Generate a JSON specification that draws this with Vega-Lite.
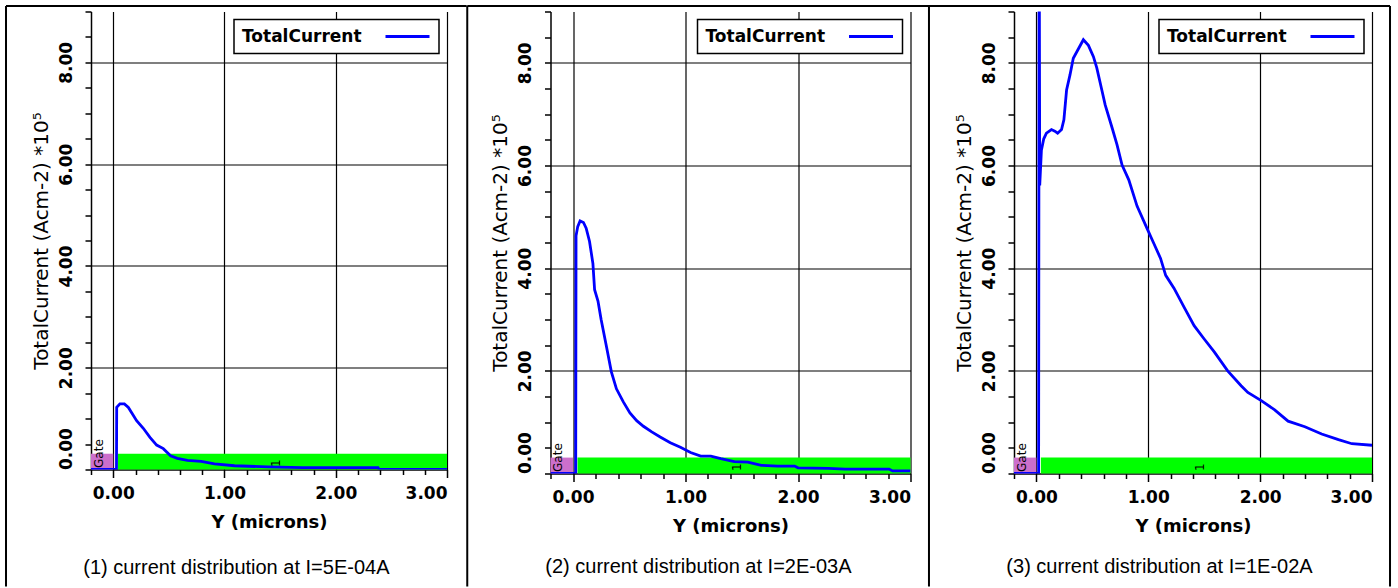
{
  "$schema": "https://vega.github.io/schema/vega-lite/v6.json",
  "background": "white",
  "padding": {"left": 5, "top": 4.5, "right": 7, "bottom": 0},
  "datasets": {
    "regions": [
      {"region": "Gate", "x0": -0.2, "x1": 0.0, "y0": 0, "y1": 0.31},
      {"region": "1", "x0": 0.04, "x1": 3.0, "y0": 0, "y1": 0.31}
    ],
    "tags": [
      {"label": "Gate", "x": -0.13, "y": 0.03},
      {"label": "1", "x": 1.46, "y": 0.05}
    ],
    "p1": [
      {"pos": -0.2, "j": 0}, {"pos": 0.029, "j": 0}, {"pos": 0.031, "j": 1.22}, {"pos": 0.06, "j": 1.29},
      {"pos": 0.10, "j": 1.29}, {"pos": 0.136, "j": 1.22}, {"pos": 0.167, "j": 1.11}, {"pos": 0.21, "j": 0.96},
      {"pos": 0.27, "j": 0.81}, {"pos": 0.33, "j": 0.63}, {"pos": 0.39, "j": 0.48}, {"pos": 0.45, "j": 0.41},
      {"pos": 0.515, "j": 0.27}, {"pos": 0.576, "j": 0.22}, {"pos": 0.667, "j": 0.18}, {"pos": 0.79, "j": 0.16},
      {"pos": 0.91, "j": 0.11}, {"pos": 1.09, "j": 0.074}, {"pos": 1.39, "j": 0.05}, {"pos": 1.70, "j": 0.037},
      {"pos": 2.0, "j": 0.037}, {"pos": 2.38, "j": 0.037}, {"pos": 2.39, "j": 0.0}, {"pos": 3.0, "j": 0.0}
    ],
    "p2": [
      {"pos": -0.2, "j": 0}, {"pos": 0.024, "j": 0}, {"pos": 0.027, "j": 4.63}, {"pos": 0.042, "j": 4.81},
      {"pos": 0.063, "j": 4.92}, {"pos": 0.093, "j": 4.89}, {"pos": 0.117, "j": 4.78}, {"pos": 0.147, "j": 4.52},
      {"pos": 0.177, "j": 4.09}, {"pos": 0.192, "j": 3.58}, {"pos": 0.222, "j": 3.36}, {"pos": 0.25, "j": 3.0},
      {"pos": 0.296, "j": 2.49}, {"pos": 0.341, "j": 1.98}, {"pos": 0.386, "j": 1.65}, {"pos": 0.446, "j": 1.40},
      {"pos": 0.506, "j": 1.18}, {"pos": 0.566, "j": 1.03}, {"pos": 0.626, "j": 0.92}, {"pos": 0.70, "j": 0.81},
      {"pos": 0.775, "j": 0.71}, {"pos": 0.865, "j": 0.60}, {"pos": 0.955, "j": 0.51}, {"pos": 1.045, "j": 0.41},
      {"pos": 1.135, "j": 0.34}, {"pos": 1.225, "j": 0.34}, {"pos": 1.314, "j": 0.29}, {"pos": 1.434, "j": 0.23},
      {"pos": 1.554, "j": 0.22}, {"pos": 1.674, "j": 0.16}, {"pos": 1.82, "j": 0.145}, {"pos": 1.97, "j": 0.145},
      {"pos": 2.0, "j": 0.11}, {"pos": 2.27, "j": 0.10}, {"pos": 2.42, "j": 0.087}, {"pos": 2.81, "j": 0.087},
      {"pos": 2.84, "j": 0.05}, {"pos": 3.0, "j": 0.05}
    ],
    "p3": [
      {"pos": -0.2, "j": 0}, {"pos": 0.02, "j": 0}, {"pos": 0.025, "j": 11}, {"pos": 0.03, "j": 5.61},
      {"pos": 0.045, "j": 6.3}, {"pos": 0.066, "j": 6.52}, {"pos": 0.09, "j": 6.63}, {"pos": 0.135, "j": 6.70},
      {"pos": 0.165, "j": 6.67}, {"pos": 0.19, "j": 6.63}, {"pos": 0.225, "j": 6.70}, {"pos": 0.246, "j": 6.89},
      {"pos": 0.27, "j": 7.47}, {"pos": 0.30, "j": 7.76}, {"pos": 0.33, "j": 8.09}, {"pos": 0.375, "j": 8.27},
      {"pos": 0.42, "j": 8.45}, {"pos": 0.465, "j": 8.34}, {"pos": 0.51, "j": 8.12}, {"pos": 0.54, "j": 7.9},
      {"pos": 0.585, "j": 7.47}, {"pos": 0.615, "j": 7.18}, {"pos": 0.676, "j": 6.74}, {"pos": 0.72, "j": 6.41},
      {"pos": 0.766, "j": 6.01}, {"pos": 0.826, "j": 5.72}, {"pos": 0.90, "j": 5.21}, {"pos": 0.99, "j": 4.77},
      {"pos": 1.05, "j": 4.48}, {"pos": 1.11, "j": 4.19}, {"pos": 1.156, "j": 3.86}, {"pos": 1.23, "j": 3.61},
      {"pos": 1.32, "j": 3.24}, {"pos": 1.41, "j": 2.88}, {"pos": 1.50, "j": 2.62}, {"pos": 1.59, "j": 2.37},
      {"pos": 1.71, "j": 2.0}, {"pos": 1.83, "j": 1.71}, {"pos": 1.89, "j": 1.58}, {"pos": 2.01, "j": 1.42},
      {"pos": 2.13, "j": 1.24}, {"pos": 2.25, "j": 1.02}, {"pos": 2.40, "j": 0.91}, {"pos": 2.55, "j": 0.77},
      {"pos": 2.70, "j": 0.66}, {"pos": 2.82, "j": 0.58}, {"pos": 3.0, "j": 0.55}
    ]
  },
  "hconcat": [
    {
      "width": 356,
      "height": 458,
      "title": {"text": "(1) current distribution at I=5E-04A", "orient": "bottom", "anchor": "middle", "frame": "bounds", "offset": -30, "baseline": "top", "font": "Liberation Sans", "fontSize": 20, "fontWeight": "normal", "color": "black"},
      "layer": [
        {
          "data": {"name": "regions"},
          "mark": {"type": "rect"},
          "encoding": {
            "x": {"field": "x0", "type": "quantitative", "scale": {"domain": [-0.2, 3.0], "nice": false, "zero": false},
              "axis": {"values": [-0.2, 0, 0.2, 0.4, 0.6, 0.8, 1, 1.2, 1.4, 1.6, 1.8, 2, 2.2, 2.4, 2.6, 2.8, 3], "tickCount": 100,
                "labelExpr": "datum.value % 1 === 0 ? format(datum.value, '.2f') : ''",
                "labelFont": "DejaVu Sans", "labelFontSize": 17, "labelFontWeight": "bold", "labelColor": "black",
                "labelPadding": 8, "labelFlush": true, "labelOverlap": false,
                "tickSize": {"condition": {"test": "datum.value % 1 === 0", "value": 8}, "value": 5},
                "tickColor": "black", "tickWidth": 1.5, "domainColor": "black", "domainWidth": 1.5,
                "grid": true, "gridColor": "black", "gridWidth": 1.2,
                "gridOpacity": {"condition": {"test": "datum.value % 1 === 0", "value": 1}, "value": 0},
                "title": "Y (microns)", "titleFont": "DejaVu Sans", "titleFontSize": 18, "titleFontWeight": "bold", "titleColor": "black", "titlePadding": 12}},
            "x2": {"field": "x1"},
            "y": {"field": "y0", "type": "quantitative", "scale": {"domain": [0, 9], "nice": false, "zero": false},
              "axis": {"values": [0, 0.5, 1, 1.5, 2, 2.5, 3, 3.5, 4, 4.5, 5, 5.5, 6, 6.5, 7, 7.5, 8, 8.5, 9], "tickCount": 100,
                "labelExpr": "datum.value % 2 === 0 && datum.value < 9 ? format(datum.value, '.2f') : ''",
                "labelAngle": 270, "labelFont": "DejaVu Sans", "labelFontSize": 17, "labelFontWeight": "bold", "labelColor": "black",
                "labelAlign": {"condition": {"test": "datum.value === 0", "value": "left"}, "value": "center"},
                "labelPadding": 10, "labelFlush": false, "labelOverlap": false,
                "tickSize": 6, "tickColor": "black", "tickWidth": 1.5, "domainColor": "black", "domainWidth": 1.5,
                "grid": true, "gridColor": "black", "gridWidth": 1.2,
                "gridOpacity": {"condition": {"test": "datum.value % 2 === 0 && datum.value > 0 && datum.value < 9", "value": 1}, "value": 0},
                "title": "TotalCurrent (Acm-2) *10⁵", "titleFont": "DejaVu Sans", "titleFontSize": 20, "titleFontWeight": "normal", "titleColor": "black", "titlePadding": 6}},
            "y2": {"field": "y1"},
            "fill": {"field": "region", "type": "nominal", "scale": {"domain": ["Gate", "1"], "range": ["#cc6fcc", "#00ff00"]}, "legend": null}
          }
        },
        {
          "data": {"name": "tags"},
          "mark": {"type": "text", "angle": 270, "align": "left", "baseline": "middle", "font": "DejaVu Sans", "fontSize": 12, "color": "black"},
          "encoding": {
            "x": {"field": "x", "type": "quantitative"},
            "y": {"field": "y", "type": "quantitative"},
            "text": {"field": "label"}
          }
        },
        {
          "data": {"name": "p1"},
          "mark": {"type": "line", "clip": true, "strokeWidth": 2.8},
          "encoding": {
            "x": {"field": "pos", "type": "quantitative"},
            "y": {"field": "j", "type": "quantitative"},
            "color": {"datum": "TotalCurrent", "type": "nominal", "scale": {"range": ["#0000ff"]},
              "legend": {"orient": "top-right", "offset": 8, "title": "TotalCurrent", "titleOrient": "left", "titleFont": "DejaVu Sans", "titleFontSize": 17, "titleFontWeight": "bold", "titleColor": "black", "titlePadding": 22, "titleBaseline": "middle", "titleAnchor": "middle",
                "labelExpr": "''", "labelOffset": 0, "symbolType": "stroke", "symbolSize": 1936, "symbolStrokeWidth": 3, "clipHeight": 18,
                "fillColor": "white", "strokeColor": "black", "padding": 8}}
          }
        },
        {
          "data": {"values": [{}]},
          "mark": {"type": "rule", "color": "black", "strokeWidth": 2},
          "encoding": {"x": {"datum": -0.964}, "y": {"datum": -2.30}, "y2": {"datum": 9.108}}
        },
        {
          "data": {"values": [{}]},
          "mark": {"type": "rule", "color": "black", "strokeWidth": 2},
          "encoding": {"x": {"datum": -0.964}, "x2": {"datum": 3.177}, "y": {"datum": 9.108}}
        }
      ]
    },
    {
      "width": 360,
      "height": 462,
      "title": {"text": "(2) current distribution at I=2E-03A", "orient": "bottom", "anchor": "middle", "frame": "bounds", "offset": -30, "baseline": "top", "font": "Liberation Sans", "fontSize": 20, "fontWeight": "normal", "color": "black"},
      "layer": [
        {
          "data": {"name": "regions"},
          "mark": {"type": "rect"},
          "encoding": {
            "x": {"field": "x0", "type": "quantitative", "scale": {"domain": [-0.2, 3.0], "nice": false, "zero": false},
              "axis": {"values": [-0.2, 0, 0.2, 0.4, 0.6, 0.8, 1, 1.2, 1.4, 1.6, 1.8, 2, 2.2, 2.4, 2.6, 2.8, 3], "tickCount": 100,
                "labelExpr": "datum.value % 1 === 0 ? format(datum.value, '.2f') : ''",
                "labelFont": "DejaVu Sans", "labelFontSize": 17, "labelFontWeight": "bold", "labelColor": "black",
                "labelPadding": 8, "labelFlush": true, "labelOverlap": false,
                "tickSize": {"condition": {"test": "datum.value % 1 === 0", "value": 8}, "value": 5},
                "tickColor": "black", "tickWidth": 1.5, "domainColor": "black", "domainWidth": 1.5,
                "grid": true, "gridColor": "black", "gridWidth": 1.2,
                "gridOpacity": {"condition": {"test": "datum.value % 1 === 0", "value": 1}, "value": 0},
                "title": "Y (microns)", "titleFont": "DejaVu Sans", "titleFontSize": 18, "titleFontWeight": "bold", "titleColor": "black", "titlePadding": 12}},
            "x2": {"field": "x1"},
            "y": {"field": "y0", "type": "quantitative", "scale": {"domain": [0, 9], "nice": false, "zero": false},
              "axis": {"values": [0, 0.5, 1, 1.5, 2, 2.5, 3, 3.5, 4, 4.5, 5, 5.5, 6, 6.5, 7, 7.5, 8, 8.5, 9], "tickCount": 100,
                "labelExpr": "datum.value % 2 === 0 && datum.value < 9 ? format(datum.value, '.2f') : ''",
                "labelAngle": 270, "labelFont": "DejaVu Sans", "labelFontSize": 17, "labelFontWeight": "bold", "labelColor": "black",
                "labelAlign": {"condition": {"test": "datum.value === 0", "value": "left"}, "value": "center"},
                "labelPadding": 10, "labelFlush": false, "labelOverlap": false,
                "tickSize": 6, "tickColor": "black", "tickWidth": 1.5, "domainColor": "black", "domainWidth": 1.5,
                "grid": true, "gridColor": "black", "gridWidth": 1.2,
                "gridOpacity": {"condition": {"test": "datum.value % 2 === 0 && datum.value > 0 && datum.value < 9", "value": 1}, "value": 0},
                "title": "TotalCurrent (Acm-2) *10⁵", "titleFont": "DejaVu Sans", "titleFontSize": 20, "titleFontWeight": "normal", "titleColor": "black", "titlePadding": 6}},
            "y2": {"field": "y1"},
            "fill": {"field": "region", "type": "nominal", "scale": {"domain": ["Gate", "1"], "range": ["#cc6fcc", "#00ff00"]}, "legend": null}
          }
        },
        {
          "data": {"name": "tags"},
          "mark": {"type": "text", "angle": 270, "align": "left", "baseline": "middle", "font": "DejaVu Sans", "fontSize": 12, "color": "black"},
          "encoding": {
            "x": {"field": "x", "type": "quantitative"},
            "y": {"field": "y", "type": "quantitative"},
            "text": {"field": "label"}
          }
        },
        {
          "data": {"name": "p2"},
          "mark": {"type": "line", "clip": true, "strokeWidth": 2.8},
          "encoding": {
            "x": {"field": "pos", "type": "quantitative"},
            "y": {"field": "j", "type": "quantitative"},
            "color": {"datum": "TotalCurrent", "type": "nominal", "scale": {"range": ["#0000ff"]},
              "legend": {"orient": "top-right", "offset": 8, "title": "TotalCurrent", "titleOrient": "left", "titleFont": "DejaVu Sans", "titleFontSize": 17, "titleFontWeight": "bold", "titleColor": "black", "titlePadding": 22, "titleBaseline": "middle", "titleAnchor": "middle",
                "labelExpr": "''", "labelOffset": 0, "symbolType": "stroke", "symbolSize": 1936, "symbolStrokeWidth": 3, "clipHeight": 18,
                "fillColor": "white", "strokeColor": "black", "padding": 8}}
          }
        },
        {
          "data": {"values": [{}]},
          "mark": {"type": "rule", "color": "black", "strokeWidth": 2},
          "encoding": {"x": {"datum": -0.940}, "y": {"datum": -2.20}, "y2": {"datum": 9.107}}
        },
        {
          "data": {"values": [{}]},
          "mark": {"type": "rule", "color": "black", "strokeWidth": 2},
          "encoding": {"x": {"datum": -0.940}, "x2": {"datum": 3.169}, "y": {"datum": 9.107}}
        }
      ]
    },
    {
      "width": 358,
      "height": 462,
      "title": {"text": "(3) current distribution at I=1E-02A", "orient": "bottom", "anchor": "middle", "frame": "bounds", "offset": -30, "baseline": "top", "font": "Liberation Sans", "fontSize": 20, "fontWeight": "normal", "color": "black"},
      "layer": [
        {
          "data": {"name": "regions"},
          "mark": {"type": "rect"},
          "encoding": {
            "x": {"field": "x0", "type": "quantitative", "scale": {"domain": [-0.2, 3.0], "nice": false, "zero": false},
              "axis": {"values": [-0.2, 0, 0.2, 0.4, 0.6, 0.8, 1, 1.2, 1.4, 1.6, 1.8, 2, 2.2, 2.4, 2.6, 2.8, 3], "tickCount": 100,
                "labelExpr": "datum.value % 1 === 0 ? format(datum.value, '.2f') : ''",
                "labelFont": "DejaVu Sans", "labelFontSize": 17, "labelFontWeight": "bold", "labelColor": "black",
                "labelPadding": 8, "labelFlush": true, "labelOverlap": false,
                "tickSize": {"condition": {"test": "datum.value % 1 === 0", "value": 8}, "value": 5},
                "tickColor": "black", "tickWidth": 1.5, "domainColor": "black", "domainWidth": 1.5,
                "grid": true, "gridColor": "black", "gridWidth": 1.2,
                "gridOpacity": {"condition": {"test": "datum.value % 1 === 0", "value": 1}, "value": 0},
                "title": "Y (microns)", "titleFont": "DejaVu Sans", "titleFontSize": 18, "titleFontWeight": "bold", "titleColor": "black", "titlePadding": 12}},
            "x2": {"field": "x1"},
            "y": {"field": "y0", "type": "quantitative", "scale": {"domain": [0, 9], "nice": false, "zero": false},
              "axis": {"values": [0, 0.5, 1, 1.5, 2, 2.5, 3, 3.5, 4, 4.5, 5, 5.5, 6, 6.5, 7, 7.5, 8, 8.5, 9], "tickCount": 100,
                "labelExpr": "datum.value % 2 === 0 && datum.value < 9 ? format(datum.value, '.2f') : ''",
                "labelAngle": 270, "labelFont": "DejaVu Sans", "labelFontSize": 17, "labelFontWeight": "bold", "labelColor": "black",
                "labelAlign": {"condition": {"test": "datum.value === 0", "value": "left"}, "value": "center"},
                "labelPadding": 10, "labelFlush": false, "labelOverlap": false,
                "tickSize": 6, "tickColor": "black", "tickWidth": 1.5, "domainColor": "black", "domainWidth": 1.5,
                "grid": true, "gridColor": "black", "gridWidth": 1.2,
                "gridOpacity": {"condition": {"test": "datum.value % 2 === 0 && datum.value > 0 && datum.value < 9", "value": 1}, "value": 0},
                "title": "TotalCurrent (Acm-2) *10⁵", "titleFont": "DejaVu Sans", "titleFontSize": 20, "titleFontWeight": "normal", "titleColor": "black", "titlePadding": 6}},
            "y2": {"field": "y1"},
            "fill": {"field": "region", "type": "nominal", "scale": {"domain": ["Gate", "1"], "range": ["#cc6fcc", "#00ff00"]}, "legend": null}
          }
        },
        {
          "data": {"name": "tags"},
          "mark": {"type": "text", "angle": 270, "align": "left", "baseline": "middle", "font": "DejaVu Sans", "fontSize": 12, "color": "black"},
          "encoding": {
            "x": {"field": "x", "type": "quantitative"},
            "y": {"field": "y", "type": "quantitative"},
            "text": {"field": "label"}
          }
        },
        {
          "data": {"name": "p3"},
          "mark": {"type": "line", "clip": true, "strokeWidth": 2.8},
          "encoding": {
            "x": {"field": "pos", "type": "quantitative"},
            "y": {"field": "j", "type": "quantitative"},
            "color": {"datum": "TotalCurrent", "type": "nominal", "scale": {"range": ["#0000ff"]},
              "legend": {"orient": "top-right", "offset": 8, "title": "TotalCurrent", "titleOrient": "left", "titleFont": "DejaVu Sans", "titleFontSize": 17, "titleFontWeight": "bold", "titleColor": "black", "titlePadding": 22, "titleBaseline": "middle", "titleAnchor": "middle",
                "labelExpr": "''", "labelOffset": 0, "symbolType": "stroke", "symbolSize": 1936, "symbolStrokeWidth": 3, "clipHeight": 18,
                "fillColor": "white", "strokeColor": "black", "padding": 8}}
          }
        },
        {
          "data": {"values": [{}]},
          "mark": {"type": "rule", "color": "black", "strokeWidth": 2},
          "encoding": {"x": {"datum": -0.960}, "y": {"datum": -2.20}, "y2": {"datum": 9.107}}
        },
        {
          "data": {"values": [{}]},
          "mark": {"type": "rule", "color": "black", "strokeWidth": 2},
          "encoding": {"x": {"datum": 3.161}, "y": {"datum": -2.20}, "y2": {"datum": 9.107}}
        },
        {
          "data": {"values": [{}]},
          "mark": {"type": "rule", "color": "black", "strokeWidth": 2},
          "encoding": {"x": {"datum": -0.960}, "x2": {"datum": 3.161}, "y": {"datum": 9.107}}
        }
      ]
    }
  ],
  "spacing": 103.5,
  "bounds": "flush",
  "resolve": {"legend": {"color": "independent"}},
  "config": {
    "view": {"stroke": null},
    "legend": {"strokeWidth": 1.5}
  }
}
